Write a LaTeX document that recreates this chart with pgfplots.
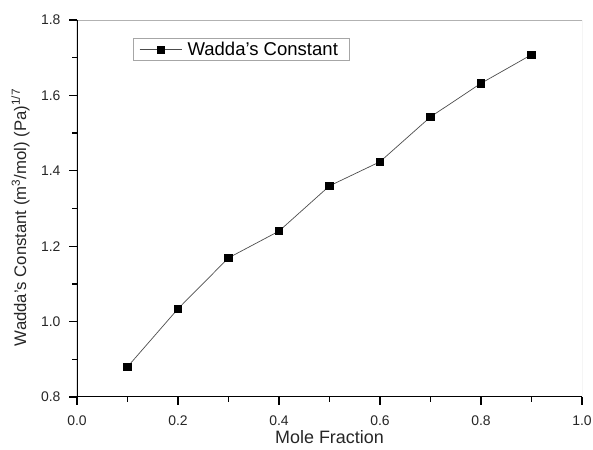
\documentclass[border=0pt]{standalone}
\usepackage{pgfplots}
\pgfplotsset{compat=1.18}
\usepackage{fontspec}
\setmainfont{Liberation Sans}
\begin{document}
\begin{tikzpicture}
\begin{axis}[
  scale only axis,
  width=505bp, height=377bp,
  xmin=0, xmax=1, ymin=0.8, ymax=1.8,
  xtick={0,0.2,0.4,0.6,0.8,1.0}, ytick={0.8,1.0,1.2,1.4,1.6,1.8},
  minor xtick={0.1,0.3,0.5,0.7,0.9}, minor ytick={0.9,1.1,1.3,1.5,1.7},
  tick pos=left,
  tick align=outside,
  major tick length=8bp, minor tick length=5bp,
  major tick style={draw=black, line width=1.3pt},
  minor tick style={draw=black, line width=1.3pt},
  axis line style={draw=none},
  xticklabel style={yshift=-7bp, /pgf/number format/.cd,fixed,fixed zerofill,precision=1},
  yticklabel style={xshift=-5bp, /pgf/number format/.cd,fixed,fixed zerofill,precision=1},
  /pgf/number format/assume math mode=true,
  ticklabel style={font=\fontsize{14}{16}\selectfont, text=black!85},
  xlabel={Mole Fraction},
  ylabel={Wadda's Constant (m\textsuperscript{3}/mol) (Pa)\textsuperscript{1/7}},
  xlabel style={font=\fontsize{18}{20}\selectfont, text=black!85,
    at={(axis description cs:0.5,0)}, anchor=north, yshift=-30bp},
  ylabel style={font=\fontsize{16.8}{19}\selectfont, text=black!85,
    at={(axis description cs:0,0.476)}, anchor=south, yshift=44bp},
  legend style={at={(axis description cs:0.111,0.952)}, anchor=north west,
    draw=black!35, line width=0.6pt, font=\fontsize{18.6}{21}\selectfont,
    inner xsep=6bp, inner ysep=1.5bp, nodes={inner xsep=5.5bp, inner ysep=2.2bp}},
  legend cell align=left,
  legend image code/.code={%
    \draw[#1, mark repeat=2, mark phase=2] plot coordinates {(0bp,0bp) (21bp,0bp) (42bp,0bp)};},
]
\draw[black!30, line width=0.8pt] (rel axis cs:0,1) -- (rel axis cs:1,1) -- (rel axis cs:1,0);
\draw[black, line width=1.4pt] (rel axis cs:0,1) -- (rel axis cs:0,0) -- (rel axis cs:1,0);
\addplot[black!70, line width=0.7pt, mark=square*, mark size=3.7bp,
  mark options={solid, fill=black, draw=black}]
  coordinates {
  (0.1,0.880) (0.2,1.034) (0.3,1.169) (0.4,1.240) (0.5,1.360)
  (0.6,1.424) (0.7,1.543) (0.8,1.632) (0.9,1.708)
  };
\addlegendentry{Wadda's Constant}
\end{axis}
\pgfresetboundingbox
\path[use as bounding box] (-77bp,-53bp) rectangle (516bp,397bp);
\end{tikzpicture}
\end{document}
